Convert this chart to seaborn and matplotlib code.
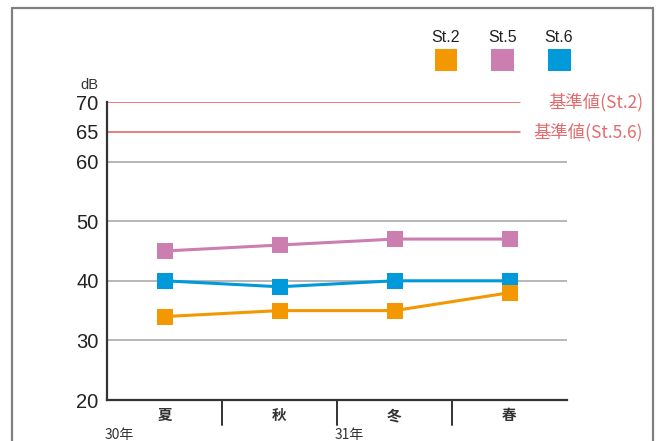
#!/usr/bin/env python3
import numpy as np
import pandas as pd
import matplotlib
matplotlib.use('Agg')
import matplotlib.pyplot as plt
import matplotlib.transforms as mtransforms
from matplotlib.lines import Line2D
from matplotlib.patches import Rectangle
import seaborn as sns

# data
seasons = ['夏', '秋', '冬', '春']
st2 = [34, 35, 35, 38]
st5 = [45, 46, 47, 47]
st6 = [40, 39, 40, 40]
stations = ['St.2', 'St.5', 'St.6']
colors = {'St.2': '#F39800', 'St.5': '#CC7EB1', 'St.6': '#0099D9'}
yticks = [20, 30, 40, 50, 60, 65, 70]
limits = [70, 65]
limit_labels = ['基準値(St.2)', '基準値(St.5.6)']
year_labels = ['30年', '31年']

df = pd.DataFrame({
    'season': seasons * 3,
    'dB': st2 + st5 + st6,
    'station': ['St.2'] * 4 + ['St.5'] * 4 + ['St.6'] * 4,
})

sns.set_style('white')
plt.rcParams['font.family'] = ['Liberation Sans', 'Noto Sans CJK JP', 'DejaVu Sans']
cjk = ['Noto Sans CJK JP', 'DejaVu Sans']

fig = plt.figure(figsize=(6.6, 4.41), dpi=100)
ax = fig.add_axes([107 / 660, 41 / 441, 460 / 660, 298 / 441])

# gridlines
for y in [30, 40, 50, 60]:
    ax.axhline(y, color='#AAAAAA', lw=1.2, zorder=1)
red = '#E8595B'
for y in limits:
    ax.axhline(y, xmax=(520 - 107) / 460, color=red, lw=1.1, zorder=1)

# blue first, so orange sits on top where they touch
sns.lineplot(data=df, x='season', y='dB', hue='station',
             hue_order=['St.6', 'St.5', 'St.2'], palette=colors,
             marker='s', markersize=11, markeredgewidth=0, lw=2.2,
             sort=False, legend=False, ax=ax, zorder=3)

ax.set_xlim(-0.5, 3.5)
ax.set_ylim(20, 70)
ax.set_yticks(yticks)
ax.set_yticklabels([str(t) for t in yticks], fontsize=14.5, color='#222222')
ax.set_xticks(range(len(seasons)))
ax.set_xticklabels(seasons, family=cjk, fontsize=10.5, fontweight='bold', color='#333333')
ax.tick_params(axis='y', length=0, pad=6)
ax.tick_params(axis='x', length=0, pad=5)
ax.set_xlabel('')
ax.set_ylabel('')

for s in ['top', 'right']:
    ax.spines[s].set_visible(False)
for s in ['left', 'bottom']:
    ax.spines[s].set_color('#333333')
    ax.spines[s].set_linewidth(1.6)

# separators below the axis
trans = ax.get_xaxis_transform()
for xb in [0.5, 1.5, 2.5]:
    ax.plot([xb, xb], [0, -25 / 298], color='#333333', lw=1.4,
            transform=trans, clip_on=False)

# year labels
for xb, lab in zip([-0.52, 1.48], year_labels):
    ax.text(xb, -35 / 298, lab, transform=trans, family=cjk, fontsize=10,
            color='#333333', ha='left', va='center')

# dB unit
fig.text(89 / 660, 1 - 85 / 441, 'dB', fontsize=10.5, color='#333333',
         ha='center', va='center')

# limit labels, right-aligned near the frame
lab_trans = mtransforms.blended_transform_factory(fig.transFigure, ax.transData)
for y, lab in zip(limits, limit_labels):
    ax.text(643 / 660, y, lab, transform=lab_trans, family=cjk, fontsize=12.5,
            color='#E36C6E', ha='right', va='center')

# legend
for i, st in enumerate(stations):
    cx = 446 + 56.5 * i
    fig.text(cx / 660, 1 - 37 / 441, st, fontsize=11.5, color='#222222',
             ha='center', va='center')
    fig.add_artist(Rectangle(((cx - 11.5) / 660, 1 - 71 / 441), 23 / 660, 22 / 441,
                             transform=fig.transFigure, color=colors[st], lw=0))

# outer frame
fc = '#808080'
fig.add_artist(Line2D([12 / 660, 12 / 660], [0, 1 - 8 / 441], color=fc, lw=1.6,
                      transform=fig.transFigure))
fig.add_artist(Line2D([12 / 660, 653 / 660], [1 - 8 / 441, 1 - 8 / 441], color=fc, lw=1.6,
                      transform=fig.transFigure))
fig.add_artist(Line2D([653 / 660, 653 / 660], [0, 1 - 8 / 441], color=fc, lw=1.6,
                      transform=fig.transFigure))

fig.savefig('out.png', dpi=100)
